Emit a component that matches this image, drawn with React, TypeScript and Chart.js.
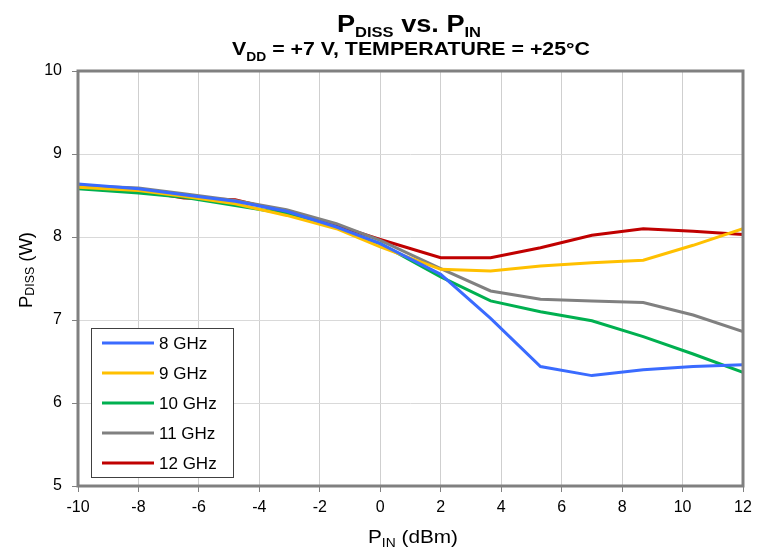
import React, { useEffect, useRef } from 'react';
import { Chart, registerables } from 'chart.js';

Chart.register(...registerables);

const pinDbm = [-10, -8, -6.5, -4.8, -3.1, -1.45, 0, 2, 3.65, 5.3, 7, 8.7, 10.35, 12];
const seriesLabels = ['8 GHz', '9 GHz', '10 GHz', '11 GHz', '12 GHz'];
const pdiss8GHz = [8.64, 8.58, 8.51, 8.43, 8.31, 8.12, 7.92, 7.55, 7.02, 6.44, 6.33, 6.40, 6.44, 6.46];
const pdiss9GHz = [8.60, 8.56, 8.49, 8.40, 8.26, 8.10, 7.88, 7.61, 7.59, 7.65, 7.69, 7.72, 7.90, 8.10];
const pdiss10GHz = [8.58, 8.53, 8.48, 8.38, 8.28, 8.11, 7.92, 7.52, 7.23, 7.10, 6.99, 6.80, 6.59, 6.37];
const pdiss11GHz = [8.62, 8.59, 8.52, 8.44, 8.33, 8.16, 7.96, 7.62, 7.35, 7.25, 7.23, 7.21, 7.06, 6.86];
const pdiss12GHz = [8.60, 8.56, 8.47, 8.45, 8.30, 8.14, 7.97, 7.75, 7.75, 7.87, 8.02, 8.10, 8.07, 8.03];
const seriesValues = [pdiss8GHz, pdiss9GHz, pdiss10GHz, pdiss11GHz, pdiss12GHz];
const seriesColors = ['#3A6BFF', '#FFC000', '#00B050', '#808080', '#C00000'];

const FONT = 'Arial, "Liberation Sans", Helvetica, sans-serif';

type Part = { text: string; size: number; dy: number; bold?: boolean };

function drawRich(
  ctx: CanvasRenderingContext2D,
  parts: Part[],
  left: number,
  baseline: number,
  targetWidth: number
) {
  ctx.save();
  let natural = 0;
  for (const p of parts) {
    ctx.font = `${p.bold ? 'bold ' : ''}${p.size}px ${FONT}`;
    natural += ctx.measureText(p.text).width;
  }
  const sx = targetWidth / natural;
  ctx.translate(left, baseline);
  ctx.scale(sx, 1);
  ctx.fillStyle = '#000';
  ctx.textBaseline = 'alphabetic';
  ctx.textAlign = 'left';
  let x = 0;
  for (const p of parts) {
    ctx.font = `${p.bold ? 'bold ' : ''}${p.size}px ${FONT}`;
    ctx.fillText(p.text, x, p.dy);
    x += ctx.measureText(p.text).width;
  }
  ctx.restore();
}

const decorPlugin = {
  id: 'decor',
  afterDatasetsDraw(chart: any) {
    const ctx: CanvasRenderingContext2D = chart.ctx;
    const a = chart.chartArea;
    // plot border
    ctx.save();
    ctx.strokeStyle = '#808080';
    ctx.lineWidth = 3;
    ctx.strokeRect(a.left, a.top, a.right - a.left, a.bottom - a.top);
    ctx.restore();

    // legend
    ctx.save();
    const lx = 91.5, ly = 328.5, lw = 142, lh = 149;
    ctx.fillStyle = '#fff';
    ctx.fillRect(lx, ly, lw, lh);
    ctx.strokeStyle = '#404040';
    ctx.lineWidth = 1;
    ctx.strokeRect(lx, ly, lw, lh);
    chart.data.datasets.forEach((ds: any, i: number) => {
      const y = 343 + i * 30;
      ctx.strokeStyle = ds.borderColor;
      ctx.lineWidth = 3;
      ctx.beginPath();
      ctx.moveTo(102, y);
      ctx.lineTo(154, y);
      ctx.stroke();
      ctx.fillStyle = '#000';
      ctx.font = `17px ${FONT}`;
      ctx.textBaseline = 'middle';
      ctx.textAlign = 'left';
      ctx.fillText(ds.label, 159, y + 1);
    });
    ctx.restore();

    // titles
    drawRich(ctx, [
      { text: 'P', size: 23, dy: 0, bold: true },
      { text: 'DISS', size: 14, dy: 5, bold: true },
      { text: ' vs. P', size: 23, dy: 0, bold: true },
      { text: 'IN', size: 14, dy: 5, bold: true },
    ], 337, 32, 144);
    drawRich(ctx, [
      { text: 'V', size: 18.5, dy: 0, bold: true },
      { text: 'DD', size: 12, dy: 6, bold: true },
      { text: ' = +7 V, TEMPERATURE = +25°C', size: 18.5, dy: 0, bold: true },
    ], 232, 55, 358);
    // x axis title
    drawRich(ctx, [
      { text: 'P', size: 18, dy: 0 },
      { text: 'IN', size: 12, dy: 4 },
      { text: ' (dBm)', size: 18, dy: 0 },
    ], 368, 543, 90);
    // y axis title
    ctx.save();
    ctx.translate(32, 308);
    ctx.rotate(-Math.PI / 2);
    drawRich(ctx, [
      { text: 'P', size: 18, dy: 0 },
      { text: 'DISS', size: 12, dy: 2 },
      { text: ' (W)', size: 18, dy: 0 },
    ], 0, 0, 76);
    ctx.restore();
  },
};

export default function App() {
  const ref = useRef<HTMLCanvasElement | null>(null);
  useEffect(() => {
    if (!ref.current) return;
    const chart = new Chart(ref.current, {
      type: 'line',
      data: {
        datasets: seriesLabels.map((label, i) => ({
          label,
          data: pinDbm.map((x, j) => ({ x, y: seriesValues[i][j] })),
          borderColor: seriesColors[i],
          backgroundColor: seriesColors[i],
          borderWidth: 3,
          pointRadius: 0,
          tension: 0,
          fill: false,
        })),
      },
      options: {
        responsive: false,
        animation: false,
        layout: { padding: { left: 0, top: 71, right: 25, bottom: 0 } },
        plugins: {
          legend: { display: false },
          title: { display: false },
          tooltip: { enabled: false },
        },
        scales: {
          x: {
            type: 'linear',
            min: -10,
            max: 12,
            ticks: {
              stepSize: 2,
              color: '#000',
              font: { family: FONT, size: 16 },
              padding: 6,
              maxRotation: 0,
            },
            grid: { color: '#cfcfcf', lineWidth: 1, tickLength: 6, tickColor: '#808080', drawTicks: true },
            border: { display: false },
            afterFit: (s: any) => { s.height = 65; },
          },
          y: {
            min: 5,
            max: 10,
            ticks: {
              stepSize: 1,
              color: '#000',
              font: { family: FONT, size: 16 },
              padding: 10,
            },
            grid: { color: '#d9d9d9', lineWidth: 1, tickLength: 6, tickColor: '#808080', drawTicks: true },
            border: { display: false },
            afterFit: (s: any) => { s.width = 78; },
          },
        },
      },
      plugins: [decorPlugin],
    });
    return () => chart.destroy();
  }, []);
  return (
    <div style={{ position: 'absolute', left: 0, top: 0, width: 768, height: 551, background: '#fff' }}>
      <canvas ref={ref} width={768} height={551} />
    </div>
  );
}
